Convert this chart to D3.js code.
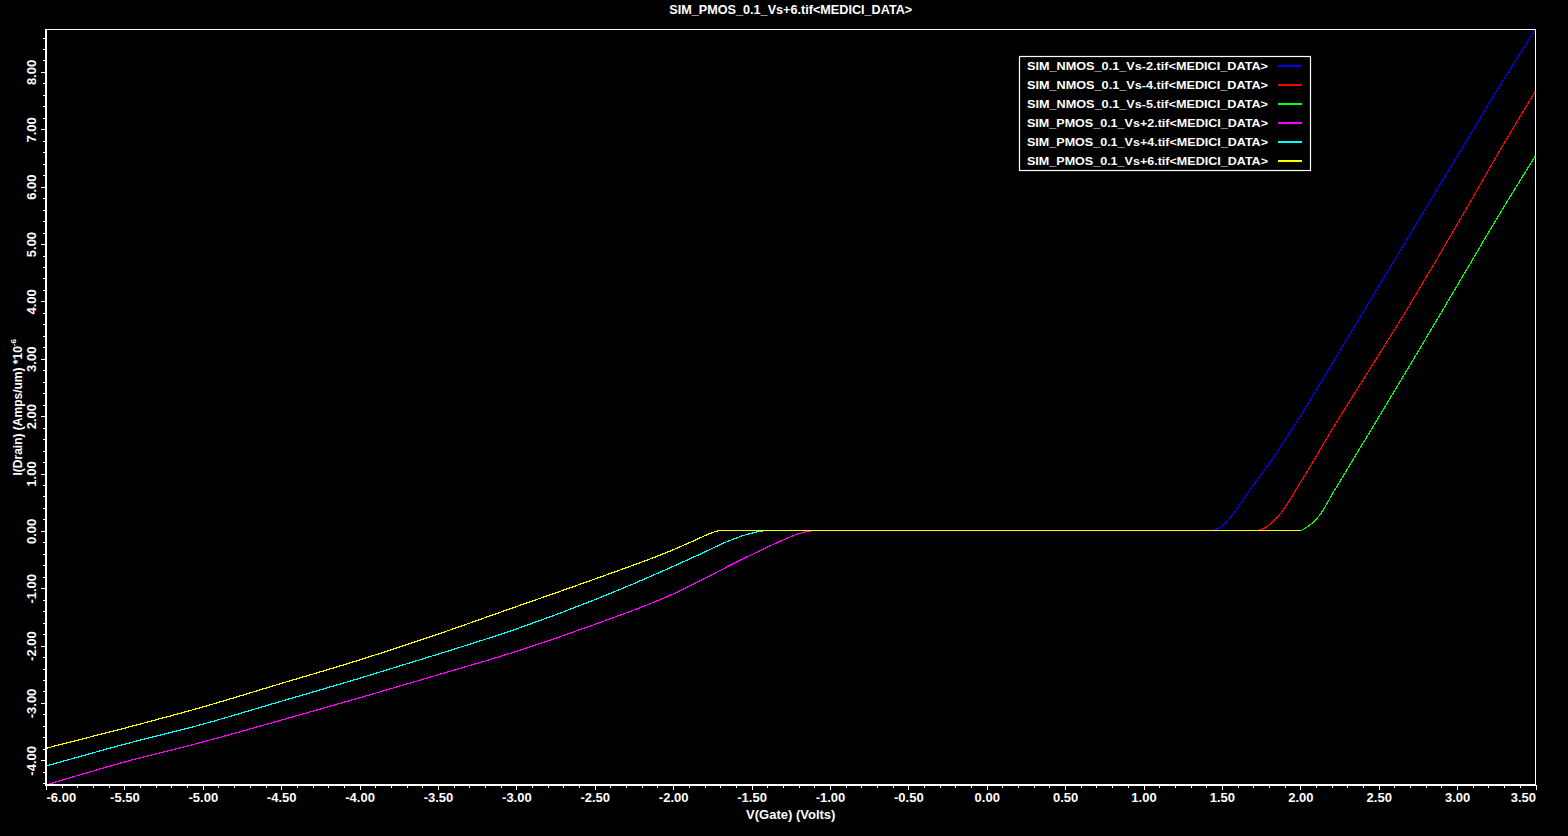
<!DOCTYPE html>
<html>
<head>
<meta charset="utf-8">
<script src="https://cdn.jsdelivr.net/npm/d3@7"></script>
<style>
  html, body { margin: 0; padding: 0; background: #000; }
  svg { display: block; }
  text { font-family: "Liberation Sans", Arial, sans-serif; font-weight: bold; fill: #fff; }
</style>
</head>
<body>
<script>
const chartTitle = "SIM_PMOS_0.1_Vs+6.tif<MEDICI_DATA>";
const xTitle = "V(Gate) (Volts)";
const yTitle = "I(Drain) (Amps/um) *10";
const yTitleExp = "-6";

const seriesNames = [
  "SIM_NMOS_0.1_Vs-2.tif<MEDICI_DATA>",
  "SIM_NMOS_0.1_Vs-4.tif<MEDICI_DATA>",
  "SIM_NMOS_0.1_Vs-5.tif<MEDICI_DATA>",
  "SIM_PMOS_0.1_Vs+2.tif<MEDICI_DATA>",
  "SIM_PMOS_0.1_Vs+4.tif<MEDICI_DATA>",
  "SIM_PMOS_0.1_Vs+6.tif<MEDICI_DATA>",
];
const seriesColors = ["#0000ff", "#ff0000", "#00ff00", "#ff00ff", "#00ffff", "#ffff00"];

// gate voltage (V) / drain current (1e-6 A/um)
const nmos2Vg = [0.0, 1.41, 1.49, 1.57, 1.68, 1.79, 2.0, 2.21, 2.42, 2.64, 2.85, 3.06, 3.27, 3.5];
const nmos2Id = [0, 0, 0.06, 0.29, 0.72, 1.13, 2.0, 2.95, 3.9, 4.9, 5.85, 6.8, 7.75, 8.74];
const nmos4Vg = [0.0, 1.71, 1.79, 1.87, 2.0, 2.21, 2.42, 2.64, 2.85, 3.06, 3.27, 3.5];
const nmos4Id = [0, 0, 0.08, 0.29, 0.84, 1.8, 2.72, 3.68, 4.64, 5.62, 6.62, 7.67];
const nmos5Vg = [0.0, 1.99, 2.04, 2.12, 2.21, 2.42, 2.64, 2.85, 3.06, 3.27, 3.5];
const nmos5Id = [0, 0, 0.06, 0.26, 0.67, 1.62, 2.62, 3.58, 4.55, 5.52, 6.54];
const pmos2Vg = [-6.0, -5.5, -5.0, -4.5, -4.0, -3.5, -3.0, -2.5, -2.0, -1.75, -1.6, -1.45, -1.3, -1.2, -1.12, 2.0];
const pmos2Id = [-4.43, -4.03, -3.68, -3.3, -2.91, -2.51, -2.1, -1.63, -1.1, -0.76, -0.55, -0.35, -0.16, -0.05, 0, 0];
const pmos4Vg = [-6.0, -5.5, -5.0, -4.5, -4.0, -3.5, -3.0, -2.5, -2.0, -1.8, -1.65, -1.5, -1.42, 2.0];
const pmos4Id = [-4.1, -3.72, -3.37, -2.97, -2.57, -2.15, -1.71, -1.2, -0.62, -0.37, -0.18, -0.04, 0, 0];
const pmos6Vg = [-6.0, -5.5, -5.0, -4.5, -4.0, -3.5, -3.0, -2.5, -2.0, -1.85, -1.75, -1.71, 2.0];
const pmos6Id = [-3.79, -3.44, -3.07, -2.66, -2.25, -1.8, -1.32, -0.84, -0.33, -0.15, -0.03, 0, 0];

const seriesVg = [nmos2Vg, nmos4Vg, nmos5Vg, pmos2Vg, pmos4Vg, pmos6Vg];
const seriesId = [nmos2Id, nmos4Id, nmos5Id, pmos2Id, pmos4Id, pmos6Id];

const xMajorTicks = [-6, -5.5, -5, -4.5, -4, -3.5, -3, -2.5, -2, -1.5, -1, -0.5, 0, 0.5, 1, 1.5, 2, 2.5, 3, 3.5];
const yMajorTicks = [-4, -3, -2, -1, 0, 1, 2, 3, 4, 5, 6, 7, 8];

const width = 1568;
const height = 836;
const plot = { left: 46, right: 1535.5, top: 29.5, bottom: 785 };

const svg = d3.select("body").append("svg").attr("width", width).attr("height", height);
svg.append("rect").attr("width", width).attr("height", height).attr("fill", "#000");

const x = d3.scaleLinear().domain([-6, 3.5]).range([plot.left, plot.right]);
const y = d3.scaleLinear().domain([-4.43, 8.74]).range([plot.bottom, plot.top]);

const fmt = (d) => d.toFixed(2);

/** X axis **/
const xMinor = d3.range(-60, 36).map((i) => i / 10);
svg
  .append("g")
  .attr("transform", `translate(0, ${plot.bottom})`)
  .call(d3.axisBottom(x).tickValues(xMinor).tickSize(3).tickFormat(""))
  .call((g) => {
    g.select(".domain").remove();
    g.selectAll("line").attr("stroke", "#fff").attr("shape-rendering", "crispEdges");
  });

const xAxis = svg
  .append("g")
  .attr("transform", `translate(0, ${plot.bottom})`)
  .call(d3.axisBottom(x).tickValues(xMajorTicks).tickSize(5).tickFormat(fmt))
  .call((g) => {
    g.select(".domain").remove();
    g.selectAll("line").attr("stroke", "#fff").attr("shape-rendering", "crispEdges");
    g.selectAll("text").attr("fill", "#fff").attr("font-size", 13).attr("font-family", null);
  });
xAxis.selectAll(".tick text").filter((d) => d === -6).attr("text-anchor", "start");
xAxis.selectAll(".tick text").filter((d) => d === 3.5).attr("text-anchor", "end");

/** Y axis **/
const yMinor = d3.range(-22, 44).map((i) => i / 5);
svg
  .append("g")
  .attr("transform", `translate(${plot.left}, 0)`)
  .call(d3.axisLeft(y).tickValues(yMinor).tickSize(3).tickFormat(""))
  .call((g) => {
    g.select(".domain").remove();
    g.selectAll("line").attr("stroke", "#fff").attr("shape-rendering", "crispEdges");
  });

svg
  .append("g")
  .attr("transform", `translate(${plot.left}, 0)`)
  .call(d3.axisLeft(y).tickValues(yMajorTicks).tickSize(5).tickFormat(fmt))
  .call((g) => {
    g.select(".domain").remove();
    g.selectAll("line").attr("stroke", "#fff").attr("shape-rendering", "crispEdges");
    g.selectAll("text")
      .attr("fill", "#fff")
      .attr("font-size", 13)
      .attr("font-family", null)
      .attr("transform", "rotate(-90)")
      .attr("x", 0)
      .attr("y", -10)
      .attr("dy", null)
      .attr("text-anchor", "middle");
  });

/** Curves **/
svg
  .append("clipPath")
  .attr("id", "plot-clip")
  .append("rect")
  .attr("x", plot.left)
  .attr("y", plot.top)
  .attr("width", plot.right - plot.left)
  .attr("height", plot.bottom - plot.top);

const line = d3
  .line()
  .x((d) => x(d[0]))
  .y((d) => y(d[1]))
  .curve(d3.curveMonotoneX);

const curves = svg.append("g").attr("clip-path", "url(#plot-clip)");
for (let i = 0; i < seriesNames.length; i++) {
  const points = seriesVg[i].map((v, k) => [v, seriesId[i][k]]);
  curves
    .append("path")
    .datum(points)
    .attr("d", line)
    .attr("fill", "none")
    .attr("stroke", seriesColors[i])
    .attr("stroke-width", 1.2)
    .attr("shape-rendering", "crispEdges");
}

/** Frame **/
svg
  .append("rect")
  .attr("x", plot.left)
  .attr("y", plot.top)
  .attr("width", plot.right - plot.left)
  .attr("height", plot.bottom - plot.top)
  .attr("fill", "none")
  .attr("stroke", "#fff")
  .attr("stroke-width", 1.5)
  .attr("shape-rendering", "crispEdges");

/** Titles **/
svg
  .append("text")
  .attr("x", (plot.left + plot.right) / 2)
  .attr("y", 14)
  .attr("text-anchor", "middle")
  .attr("font-size", 12)
  .attr("textLength", 243)
  .attr("lengthAdjust", "spacingAndGlyphs")
  .text(chartTitle);

svg
  .append("text")
  .attr("x", (plot.left + plot.right) / 2)
  .attr("y", 819)
  .attr("text-anchor", "middle")
  .attr("font-size", 13)
  .text(xTitle);

const yLabel = svg
  .append("text")
  .attr("transform", `translate(22, ${(plot.top + plot.bottom) / 2}) rotate(-90)`)
  .attr("text-anchor", "middle")
  .attr("font-size", 12);
yLabel.append("tspan").text(yTitle);
yLabel.append("tspan").attr("dy", -6).attr("font-size", 8).text(yTitleExp);

/** Legend **/
const legend = svg.append("g").attr("transform", "translate(1019.5, 56.5)");
legend
  .append("rect")
  .attr("width", 291)
  .attr("height", 114)
  .attr("fill", "#000")
  .attr("stroke", "#fff")
  .attr("stroke-width", 1.2);

for (let i = 0; i < seriesNames.length; i++) {
  const rowY = 9.5 + i * 19;
  legend
    .append("text")
    .attr("x", 7.5)
    .attr("y", rowY + 4)
    .attr("font-size", 11)
    .attr("textLength", 241)
    .attr("lengthAdjust", "spacingAndGlyphs")
    .text(seriesNames[i]);
  legend
    .append("line")
    .attr("x1", 258)
    .attr("x2", 282)
    .attr("y1", rowY)
    .attr("y2", rowY)
    .attr("stroke", seriesColors[i])
    .attr("stroke-width", 1.2)
    .attr("shape-rendering", "crispEdges");
}
</script>
</body>
</html>
